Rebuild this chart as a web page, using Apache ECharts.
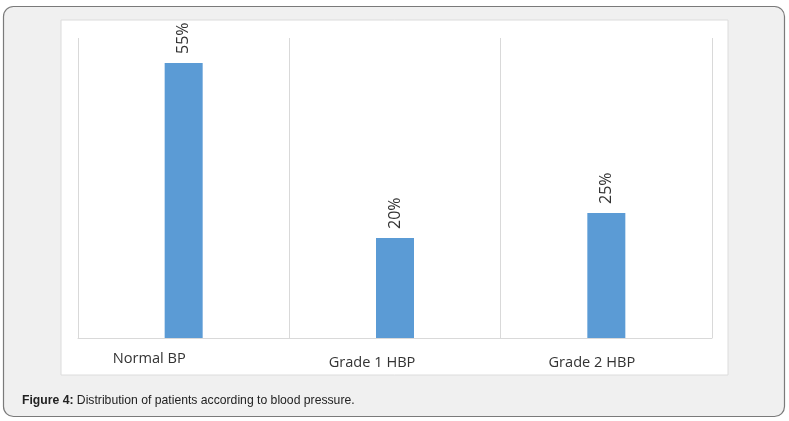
<!DOCTYPE html>
<html><head><meta charset="utf-8">
<script src="https://cdn.jsdelivr.net/npm/echarts@6/dist/echarts.min.js"></script>
<style>html,body{margin:0;padding:0;background:#fff;}#c{width:789px;height:421px;}</style>
</head><body><div id="c"></div>
<script>
const categories = ["Normal BP", "Grade 1 HBP", "Grade 2 HBP"];
const values = [55, 20, 25];
const captionBold = "Figure 4:";
const captionText = " Distribution of patients according to blood pressure.";

// label placement tweaks (styling only)
const labelPads = [[0, 69, 0, 0], [4, 46, 0, 0], [4, 29, 0, 0]];

const chart = echarts.init(document.getElementById('c'), null, {renderer: 'canvas'});
chart.setOption({
  animation: false,
  graphic: [
    {type: 'rect', z: -10, shape: {x: 3.5, y: 6.5, width: 781, height: 410, r: 10},
     style: {fill: '#f0f0f0', stroke: '#7a7a7a', lineWidth: 1.2}},
    {type: 'rect', z: -9, shape: {x: 61, y: 20, width: 667, height: 355},
     style: {fill: '#ffffff', stroke: '#dcdcdc', lineWidth: 1}},
    {type: 'text', left: 22, top: 395, style: {
      text: '{b|' + captionBold + '}' + captionText,
      font: '12.2px "Liberation Sans", Arial, sans-serif', fill: '#222',
      rich: {b: {fontWeight: 'bold', fontSize: 12.2, fontFamily: '"Liberation Sans", Arial, sans-serif', fill: '#222'}}
    }}
  ],
  grid: {left: 78, right: 77, top: 38, bottom: 83},
  xAxis: {
    type: 'category',
    data: categories.map((c, i) => ({value: c, textStyle: {padding: labelPads[i]}})),
    axisLine: {lineStyle: {color: '#d9d9d9'}},
    axisTick: {show: false},
    splitLine: {show: true, lineStyle: {color: '#d9d9d9'}},
    axisLabel: {color: '#333', fontSize: 14.6, margin: 13, fontFamily: '"Open Sans", sans-serif'}
  },
  yAxis: {type: 'value', min: 0, max: 60, show: false, splitLine: {show: false}},
  series: [{
    type: 'bar', data: values, barWidth: 38,
    itemStyle: {color: '#5b9bd5'},
    label: {show: true, position: 'top', rotate: 90, align: 'left', verticalAlign: 'middle',
      distance: 9, formatter: '{c}%', color: '#333', fontSize: 16, fontFamily: '"Open Sans", sans-serif'}
  }]
});
</script></body></html>
